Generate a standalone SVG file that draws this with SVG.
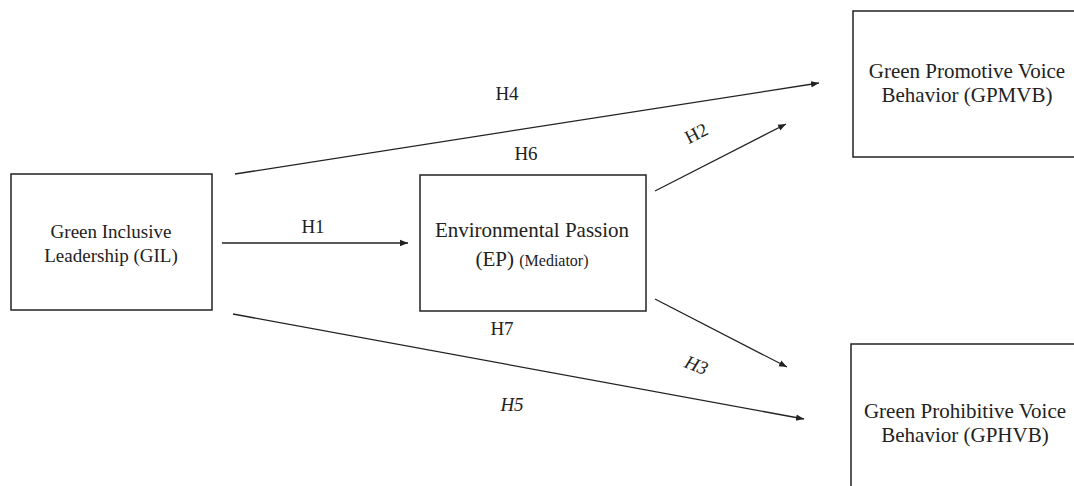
<svg xmlns="http://www.w3.org/2000/svg" width="1074" height="486" viewBox="0 0 1074 486">
<style>
.box{fill:#fff;stroke:#222;stroke-width:1.5}
text{fill:#222;text-anchor:middle}
.n{font-size:21px}
.s{font-size:19px}
.lbl{font-size:19px}
.it{font-style:italic}
.c{stroke:#222;stroke-width:1.3;fill:none;marker-end:url(#ah)}
</style>
<defs>
<marker id="ah" viewBox="0 0 10 10" refX="10" refY="5" markerWidth="8" markerHeight="8" markerUnits="userSpaceOnUse" orient="auto">
<path d="M0,1 L10,5 L0,9 z" fill="#222"/>
</marker>
</defs>
<rect width="1074" height="486" fill="#fff"/>
<g font-family="Liberation Serif, Tinos, DejaVu Serif, serif">
<g id="connectors">
<line class="c" x1="235" y1="174" x2="819" y2="83"/>
<line class="c" x1="222" y1="243" x2="408" y2="243"/>
<line class="c" x1="655" y1="191" x2="786" y2="124"/>
<line class="c" x1="655" y1="299" x2="787" y2="367"/>
<line class="c" x1="233" y1="314" x2="804" y2="419"/>
<text class="lbl" x="507" y="100">H4</text>
<text class="lbl" x="526" y="160">H6</text>
<text class="lbl" x="313" y="233">H1</text>
<text class="lbl" x="502" y="335">H7</text>
<text class="lbl" transform="translate(699,139) rotate(-27)">H2</text>
<text class="lbl it" transform="translate(694,371) rotate(22)">H3</text>
<text class="lbl it" x="512" y="411">H5</text>
</g>
<g id="gil">
<rect class="box" x="11" y="174" width="201" height="136"/>
<text class="s" x="111" y="238">Green Inclusive</text>
<text class="s" x="111" y="262">Leadership (GIL)</text>
</g>
<g id="ep">
<rect class="box" x="420" y="175" width="226" height="136"/>
<text class="n" x="532" y="237">Environmental Passion</text>
<text x="532" y="266"><tspan class="n">(EP) </tspan><tspan style="font-size:16px">(Mediator)</tspan></text>
</g>
<g id="gpmvb">
<rect class="box" x="853" y="11" width="232" height="146"/>
<text class="n" x="967" y="78">Green Promotive Voice</text>
<text class="n" x="967" y="102">Behavior (GPMVB)</text>
</g>
<g id="gphvb">
<rect class="box" x="851" y="344" width="234" height="160"/>
<text class="n" x="965" y="418">Green Prohibitive Voice</text>
<text class="n" x="965" y="442">Behavior (GPHVB)</text>
</g>
</g>
</svg>
